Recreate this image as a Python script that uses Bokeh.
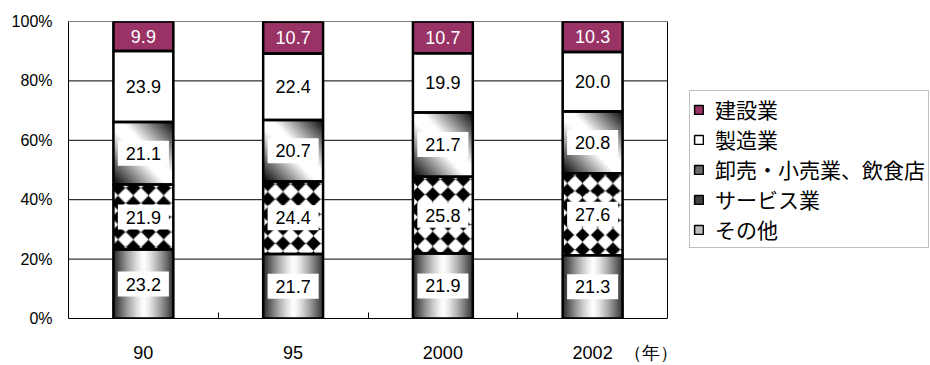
import numpy as np
from bokeh.plotting import figure
from bokeh.models import ColumnDataSource, Range1d, FixedTicker, Legend, LegendItem
from bokeh.core.properties import value
from bokeh.embed import file_html
from bokeh.resources import INLINE

# ---------------- data ----------------
years = ["90", "95", "2000", "2002"]
year_unit = "（年）"
series = ["その他", "サービス業", "卸売・小売業、飲食店", "製造業", "建設業"]
other = [23.2, 21.7, 21.9, 21.3]
services = [21.9, 24.4, 25.8, 27.6]
trade = [21.1, 20.7, 21.7, 20.8]
manufacturing = [23.9, 22.4, 19.9, 20.0]
construction = [9.9, 10.7, 10.7, 10.3]
y_ticks = [0, 20, 40, 60, 80, 100]
y_tick_labels = ["0%", "20%", "40%", "60%", "80%", "100%"]

# ---------------- layout ----------------
W, H = 930, 365
LEFT, TOP, BOTTOM = 68, 21, 41
AREA_RIGHT = 667          # right edge of the plotting area (px)
BAR_W = 0.40
FRAME_W = W - LEFT
FRAME_H = H - TOP - BOTTOM
PX_X = (AREA_RIGHT - LEFT) / len(years)
PX_Y = FRAME_H / 100.0
X0 = -0.5
X1 = len(years) - 0.5
UNIT_POS = len(years) - 1 + 0.39   # position of the "（年）" label

CJK = "Noto Sans CJK JP"
SANS = "Liberation Sans"

p = figure(width=W, height=H, output_backend="svg", toolbar_location=None,
           x_range=Range1d(X0, X0 + FRAME_W / PX_X), y_range=Range1d(0, 100),
           min_border_left=LEFT, min_border_right=0,
           min_border_top=TOP, min_border_bottom=BOTTOM)
p.background_fill_color = "white"
p.border_fill_color = "white"
p.outline_line_color = None

xs = np.arange(len(years), dtype=float)
vals = [np.array(v, dtype=float) for v in [other, services, trade, manufacturing, construction]]
tops = np.cumsum(np.vstack(vals), axis=0)
bottoms = tops - np.vstack(vals)

# plotting-area grid lines and border
gy = np.array(y_ticks[1:], dtype=float)
p.segment(x0=[X0] * len(gy), x1=[X1] * len(gy), y0=gy, y1=gy, line_color="black", line_width=1)
p.segment(x0=[X1], x1=[X1], y0=[y_ticks[0]], y1=[y_ticks[-1]], line_color="black", line_width=1)


def gray_image(g):
    g = np.clip(g, 0, 255).astype(np.uint8)
    h, w = g.shape
    img = np.empty((h, w), dtype=np.uint32)
    v = img.view(dtype=np.uint8).reshape((h, w, 4))
    v[..., 0] = g
    v[..., 1] = g
    v[..., 2] = g
    v[..., 3] = 255
    return img


def grad_horizontal(h, w):
    xn = (np.arange(w) + 0.5) / w
    t = np.abs(xn - 0.5) * 2
    g = 255 * (1 - 0.85 * t ** 1.3)
    return gray_image(np.tile(g, (h, 1)))


def grad_diagonal(h, w):
    xn = (np.arange(w) + 0.5) / w
    yn = (np.arange(h) + 0.5) / h
    u = xn[None, :] + yn[:, None]
    b = 1 - np.abs(u - 1)
    g = 255 * np.clip(b * 1.15, 0, 1)
    return gray_image(g)


def diamonds(h, w, period=15.0, r=7.2):
    px = np.arange(w) + 0.5
    py = np.arange(h)[::-1] + 0.5
    dx = np.mod(px + 3.0, period) - period / 2
    dy = np.mod(py + 4.0, period) - period / 2
    d = np.abs(dx)[None, :] + np.abs(dy)[:, None]
    g = 255 * np.clip((d - r) / 1.8 + 0.5, 0, 1)
    return gray_image(g)


# base bars (also used as legend swatches)
legend_fills = ["#bdbdbd", "#404040", "#6a6a6a", "white", "#993366"]
base = []
for k in range(5):
    base.append(p.vbar(x=xs, bottom=bottoms[k], top=tops[k], width=BAR_W,
                       fill_color=legend_fills[k], line_color="black", line_width=1.5))

# patterned fills
pw = int(round(BAR_W * PX_X))
makers = {0: grad_horizontal, 1: diamonds, 2: grad_diagonal}
for k, fn in makers.items():
    imgs = [fn(max(int(round(v * PX_Y)), 2), pw) for v in vals[k]]
    src = ColumnDataSource(dict(image=imgs, x=xs - BAR_W / 2, y=bottoms[k],
                                dw=[BAR_W] * len(xs), dh=vals[k]))
    p.image_rgba(image="image", x="x", y="y", dw="dw", dh="dh", source=src)

# thick outlines
for k in range(5):
    p.vbar(x=xs, bottom=bottoms[k], top=tops[k], width=BAR_W,
           fill_color=None, line_color="black", line_width=2.5)

# value labels
for k in range(5):
    mids = bottoms[k] + vals[k] / 2
    labels = ["%.1f" % v for v in vals[k]]
    src = ColumnDataSource(dict(x=xs, y=mids, t=labels))
    if k == 4:
        p.text(x="x", y="y", text="t", source=src, text_align="center",
               text_baseline="middle", text_font=value(SANS),
               text_font_size="18px", text_color="white")
    else:
        p.text(x="x", y="y", text="t", source=src, text_align="center",
               text_baseline="middle", text_font=value(SANS),
               text_font_size="18px", text_color="black",
               background_fill_color="white", padding=(8, 6))

# axes
x_tick_pos = list(xs) + [UNIT_POS]
x_tick_text = years + [year_unit]
p.xaxis.bounds = (X0, X1)
p.xaxis.ticker = FixedTicker(ticks=x_tick_pos, minor_ticks=[0.5, 1.5, 2.5])
p.xaxis.major_label_overrides = {t: l for t, l in zip(x_tick_pos, x_tick_text)}
p.xaxis.major_tick_line_color = None
p.xaxis.minor_tick_in = 6
p.xaxis.minor_tick_out = 0
p.xaxis.minor_tick_line_color = "black"
p.xaxis.major_label_standoff = 18
p.xaxis.major_label_text_font = SANS
p.xaxis.major_label_text_font_size = "18px"
p.xaxis.major_label_text_color = "black"
p.xaxis.axis_line_color = "black"

p.yaxis.ticker = FixedTicker(ticks=y_ticks)
p.yaxis.major_label_overrides = {t: l for t, l in zip(y_ticks, y_tick_labels)}
p.yaxis.major_tick_line_color = None
p.yaxis.major_tick_out = 0
p.yaxis.major_tick_in = 0
p.yaxis.minor_tick_line_color = None
p.yaxis.major_label_standoff = 16
p.yaxis.major_label_text_font = SANS
p.yaxis.major_label_text_font_size = "16px"
p.yaxis.major_label_text_color = "black"
p.yaxis.axis_line_color = "black"

p.xgrid.visible = False
p.ygrid.visible = False

# legend
order = [4, 3, 2, 1, 0]
legend = Legend(items=[LegendItem(label=series[k], renderers=[base[k]]) for k in order],
                location=(689 - LEFT, 324 - 254), orientation="vertical",
                label_text_font=CJK, label_text_font_size="21px", label_text_color="black",
                glyph_width=11, glyph_height=11, label_height=20, label_standoff=11,
                spacing=0, padding=3, margin=0,
                border_line_color="#808080", border_line_width=1,
                background_fill_color="white", background_fill_alpha=1)
p.add_layout(legend)

open("out.html", "w").write(file_html(p, INLINE))
